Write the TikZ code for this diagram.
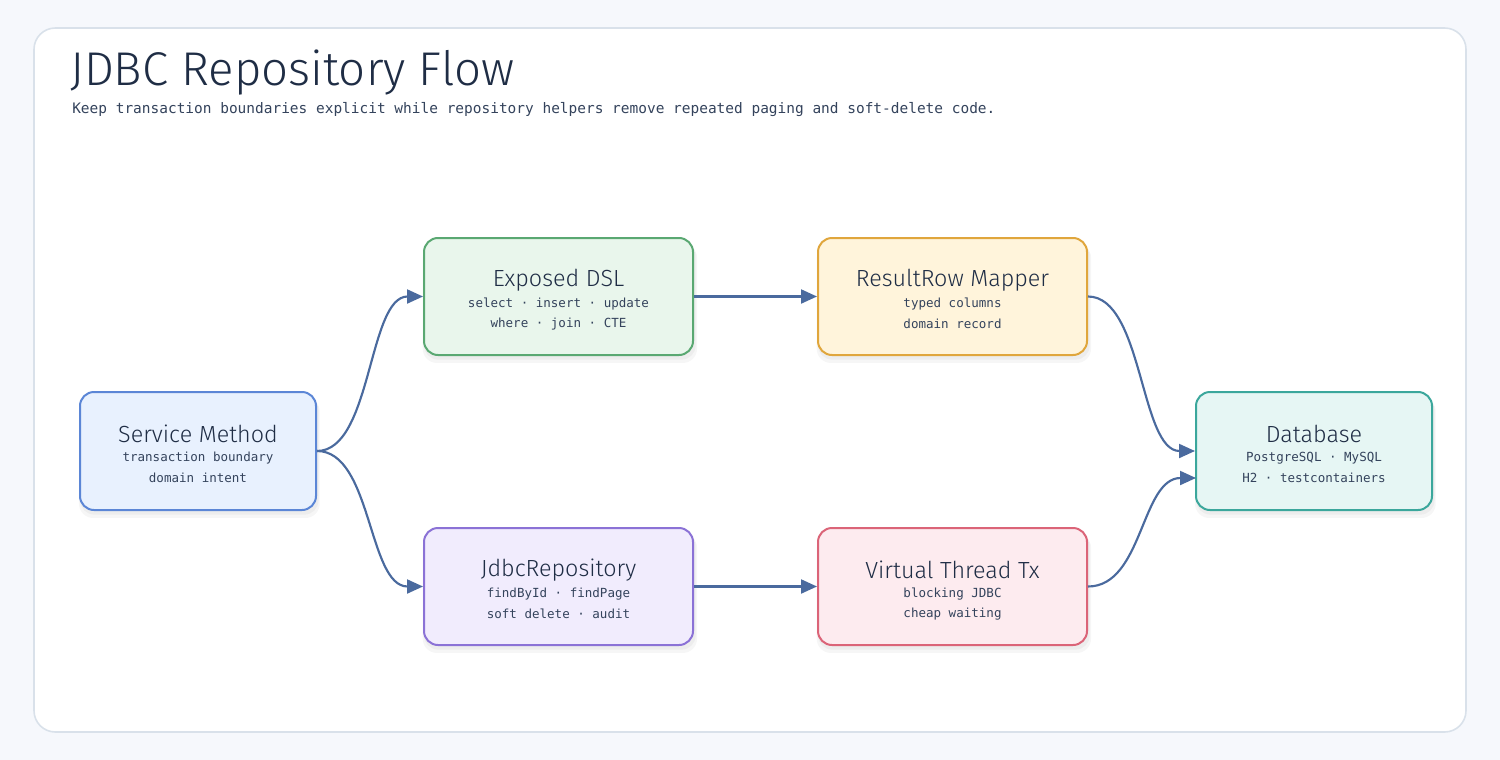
\documentclass[tikz,border=0pt]{standalone}
\usepackage{fontspec}
\setmainfont{Fira Sans}
\newfontfamily\monof{DejaVu Sans Mono}
\newfontfamily\headf{Fira Sans Light}
\usetikzlibrary{arrows.meta,shadows}
\definecolor{pagebg}{HTML}{F6F8FC}
\definecolor{cardline}{HTML}{D9E1EA}
\definecolor{ink}{HTML}{1F2D45}
\definecolor{subink}{HTML}{34435C}
\definecolor{edge}{HTML}{4A6A9E}
\definecolor{bluefill}{HTML}{E8F1FE}\definecolor{blueline}{HTML}{5B86D6}
\definecolor{greenfill}{HTML}{E9F6EC}\definecolor{greenline}{HTML}{5AA872}
\definecolor{yellowfill}{HTML}{FFF4DB}\definecolor{yellowline}{HTML}{E0A63C}
\definecolor{tealfill}{HTML}{E6F6F4}\definecolor{tealline}{HTML}{3BA79C}
\definecolor{purplefill}{HTML}{F1ECFD}\definecolor{purpleline}{HTML}{8B72D6}
\definecolor{redfill}{HTML}{FDEBEF}\definecolor{redline}{HTML}{DB6478}
\begin{document}
\begin{tikzpicture}[x=0.75pt,y=-0.75pt,
  box/.style={draw, line width=1.5pt, rounded corners=10.5pt, inner sep=0pt,
    general shadow={shadow xshift=1pt, shadow yshift=-5pt, shadow scale=1.02, fill=black, opacity=0.035},
    general shadow={shadow xshift=1pt, shadow yshift=-3pt, shadow scale=1.01, fill=black, opacity=0.035}},
  boxtitle/.style={font=\headf\fontsize{17.5}{20}\selectfont, text=ink, inner sep=0pt},
  boxline/.style={font=\monof\fontsize{9.4}{11}\selectfont, text=subink, inner sep=0pt},
  flow/.style={draw=edge, line width=1.6pt, -{Triangle[length=12pt,width=10.5pt]}}
]
\useasboundingbox (0,0) rectangle (1500,760);
\fill[pagebg] (0,0) rectangle (1500,760);
\draw[cardline, fill=white, line width=1.2pt, rounded corners=16pt] (34,28) rectangle (1466,732);

\node[anchor=base west, font=\headf\fontsize{35.5}{40}\selectfont, text=ink, inner sep=0pt] (title) at (70,85) {JDBC Repository Flow};
\node[anchor=base west, font=\monof\fontsize{10.85}{13}\selectfont, text=subink, inner sep=0pt] (subtitle) at (72,113) {Keep transaction boundaries explicit while repository helpers remove repeated paging and soft-delete code.};

% boxes
\node[box, fill=bluefill, draw=blueline, minimum width=177pt, minimum height=88.5pt] (svc) at (198,451) {};
\node[box, fill=greenfill, draw=greenline, minimum width=201.75pt, minimum height=87.75pt] (dsl) at (558.5,296.5) {};
\node[box, fill=yellowfill, draw=yellowline, minimum width=201.75pt, minimum height=87.75pt] (map) at (952.5,296.5) {};
\node[box, fill=tealfill, draw=tealline, minimum width=177pt, minimum height=88.5pt] (db) at (1314,451) {};
\node[box, fill=purplefill, draw=purpleline, minimum width=201.75pt, minimum height=87.75pt] (repo) at (558.5,586.5) {};
\node[box, fill=redfill, draw=redline, minimum width=201.75pt, minimum height=87.75pt] (vt) at (952.5,586.5) {};

% texts
\node[boxtitle] (svcT) at (198,434) {Service Method};
\node[boxline] (svcA) at (198,458) {transaction boundary};
\node[boxline] (svcB) at (198,478) {domain intent};

\node[boxtitle] (dslT) at (558.5,280) {Exposed DSL};
\node[boxline] (dslA) at (558.5,304) {select · insert · update};
\node[boxline] (dslB) at (558.5,324) {where · join · CTE};

\node[boxtitle] (mapT) at (952.5,280) {ResultRow Mapper};
\node[boxline] (mapA) at (952.5,304) {typed columns};
\node[boxline] (mapB) at (952.5,324) {domain record};

\node[boxtitle] (dbT) at (1314,434) {Database};
\node[boxline] (dbA) at (1314,458) {PostgreSQL · MySQL};
\node[boxline] (dbB) at (1314,478) {H2 · testcontainers};

\node[boxtitle] (repoT) at (558.5,570) {JdbcRepository};
\node[boxline] (repoA) at (558.5,594) {findById · findPage};
\node[boxline] (repoB) at (558.5,614) {soft delete · audit};

\node[boxtitle] (vtT) at (952.5,570) {Virtual Thread Tx};
\node[boxline] (vtA) at (952.5,594) {blocking JDBC};
\node[boxline] (vtB) at (952.5,614) {cheap waiting};

% connectors
\coordinate (dbIn2) at (1196,478);
\draw[flow] (svc.east) .. controls +(55,0) and +(-55,0) .. (dsl.west);
\draw[flow] (svc.east) .. controls +(55,0) and +(-55,0) .. (repo.west);
\draw[flow] (dsl.east) -- (map.west);
\draw[flow] (repo.east) -- (vt.west);
\draw[flow] (map.east) .. controls +(55,0) and +(-55,0) .. (db.west);
\draw[flow] (vt.east) .. controls +(55,0) and +(-55,0) .. (dbIn2);
\end{tikzpicture}
\end{document}
